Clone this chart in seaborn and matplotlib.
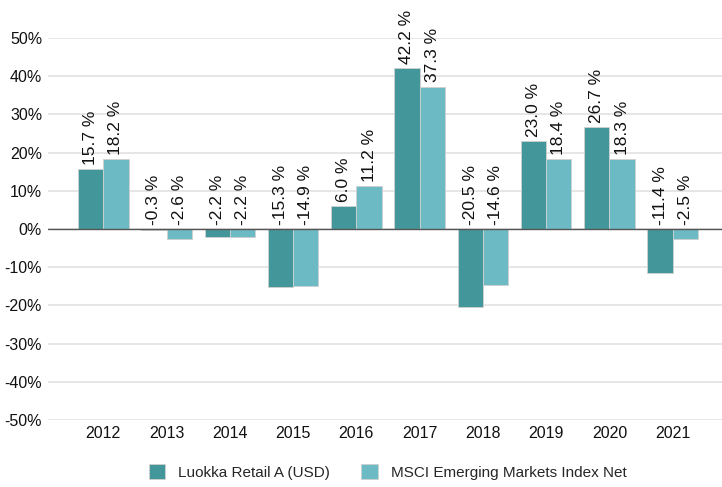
import pandas as pd
import matplotlib.pyplot as plt
import seaborn as sns

# Data
years = ['2012', '2013', '2014', '2015', '2016', '2017', '2018', '2019', '2020', '2021']
fund = [15.7, -0.3, -2.2, -15.3, 6.0, 42.2, -20.5, 23.0, 26.7, -11.4]
index = [18.2, -2.6, -2.2, -14.9, 11.2, 37.3, -14.6, 18.4, 18.3, -2.5]
series_names = ['Luokka Retail A (USD)', 'MSCI Emerging Markets Index Net']
colors = ['#43979a', '#6cbac4']

df = pd.DataFrame({
    'year': years * 2,
    'value': fund + index,
    'series': [series_names[0]] * len(years) + [series_names[1]] * len(years),
})

sns.set_style('white')
plt.rcParams['font.family'] = ['Liberation Sans', 'DejaVu Sans']

fig = plt.figure(figsize=(7.22, 4.87), dpi=100)
ax = fig.add_axes([0.066, 0.1376, 0.934, 0.7844])

sns.barplot(data=df, x='year', y='value', hue='series', palette=colors,
            width=0.8, edgecolor='#d0d0d0', linewidth=0.6, saturation=1, ax=ax)

# value labels, rotated, sitting above the bar top (or above zero for negatives)
for cont, vals in zip(ax.containers, [fund, index]):
    for bar, v in zip(cont, vals):
        x = bar.get_x() + bar.get_width() / 2
        ax.annotate(f'{v:.1f} %', (x, max(v, 0)), xytext=(0, 3), textcoords='offset points',
                    rotation=90, ha='center', va='bottom', fontsize=12.5, color='#111111',
                    annotation_clip=False)

ax.set_ylim(-50, 50)
ax.set_xlim(-0.88, 9.78)
ax.set_yticks(range(-50, 51, 10))
ax.set_yticklabels([f'{t}%' for t in range(-50, 51, 10)])
ax.yaxis.grid(True, color='#e2e2e2', linewidth=1.2)
ax.set_axisbelow(True)
ax.axhline(0, color='#555555', linewidth=1)
ax.set_xlabel('')
ax.set_ylabel('')
ax.tick_params(axis='both', length=0, labelsize=11.5, colors='#111111')
ax.tick_params(axis='y', pad=4)
ax.tick_params(axis='x', pad=4)
for s in ax.spines.values():
    s.set_visible(False)

ax.legend(loc='center', bbox_to_anchor=(0.504, -0.136), ncol=2, frameon=False,
          fontsize=11, handlelength=1.1, handleheight=1.1, columnspacing=2.0,
          handletextpad=0.85)

fig.savefig('out.png', dpi=100)
